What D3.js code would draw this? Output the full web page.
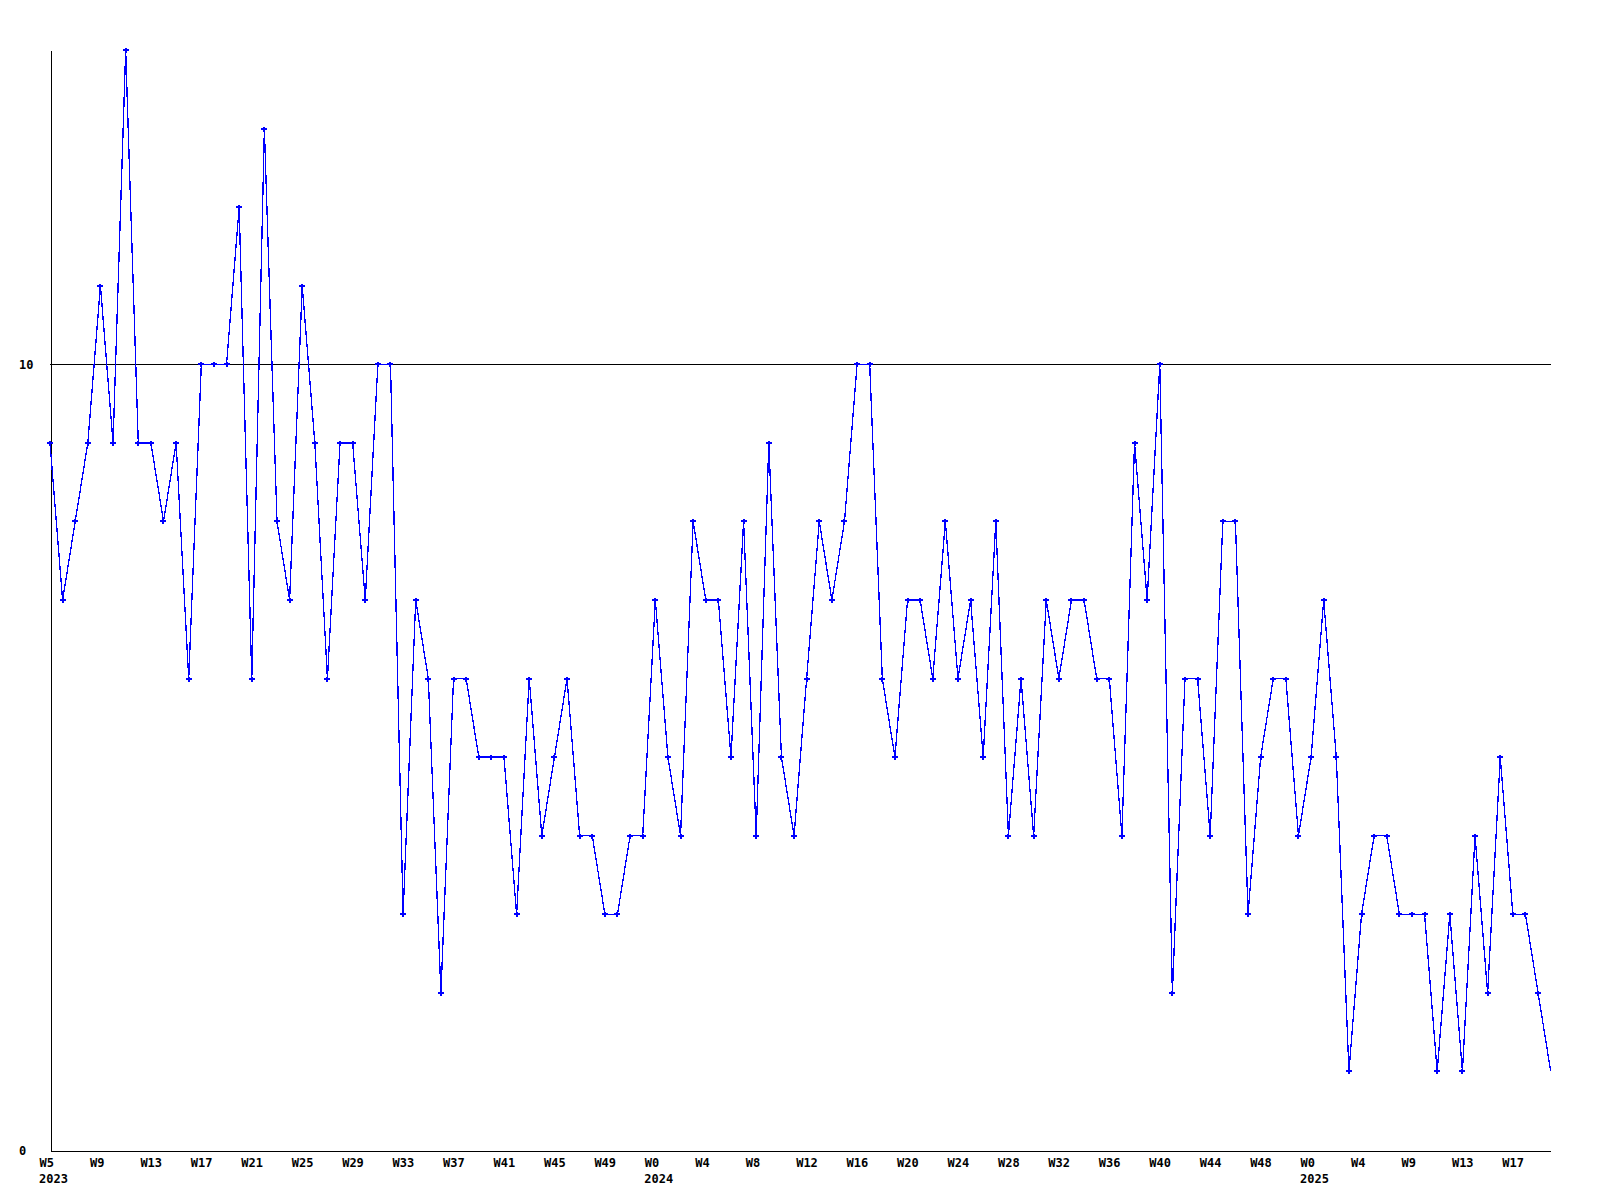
<!DOCTYPE html>
<html>
<head>
<meta charset="utf-8">
<script src="https://cdn.jsdelivr.net/npm/d3@7"></script>
<style>
  html, body { margin: 0; padding: 0; background: #ffffff; }
  svg { display: block; }
  text { font-family: "DejaVu Sans Mono", "Liberation Mono", monospace; font-weight: bold; font-size: 12px; fill: #000; }
</style>
</head>
<body>
<svg id="chart" width="1600" height="1200"></svg>
<script>
// Weekly counts, 2023 W5 through 2025 W20 (120 weeks)
const values = [
  9, 7, 8, 9, 11, 9, 14, 9, 9, 8, 9, 6, 10, 10, 10, 12, 6, 13, 8, 7,
  11, 9, 6, 9, 9, 7, 10, 10, 3, 7, 6, 2, 6, 6, 5, 5, 5, 3, 6, 4,
  5, 6, 4, 4, 3, 3, 4, 4, 7, 5, 4, 8, 7, 7, 5, 8, 4, 9, 5, 4,
  6, 8, 7, 8, 10, 10, 6, 5, 7, 7, 6, 8, 6, 7, 5, 8, 4, 6, 4, 7,
  6, 7, 7, 6, 6, 4, 9, 7, 10, 2, 6, 6, 4, 8, 8, 3, 5, 6, 6, 4,
  5, 7, 5, 1, 3, 4, 4, 3, 3, 3, 1, 3, 1, 4, 2, 5, 3, 3, 2, 1
];
// Week tick labels (every 4th point) and their point index
const tickIndex = [0, 4, 8, 12, 16, 20, 24, 28, 32, 36, 40, 44,
                   48, 52, 56, 60, 64, 68, 72, 76, 80, 84, 88, 92, 96,
                   100, 104, 108, 112, 116];
const tickText = ["W5", "W9", "W13", "W17", "W21", "W25", "W29", "W33", "W37", "W41", "W45", "W49",
                  "W0", "W4", "W8", "W12", "W16", "W20", "W24", "W28", "W32", "W36", "W40", "W44", "W48",
                  "W0", "W4", "W9", "W13", "W17"];
// Year labels and their point index
const yearIndex = [0, 48, 100];
const yearText = ["2023", "2024", "2025"];
// Y axis labels and reference line
const yTicks = [0, 10];
const refLine = [10];

const svg = d3.select("#chart");
const mLeft = 50, mRight = 1550.7, mTop = 50, mBottom = 1150;

const x = d3.scaleLinear().domain([0, values.length - 1]).range([mLeft, mRight]);
const y = d3.scaleLinear().domain([0, 14]).range([mBottom, mTop]);

// Reference line at 10
svg.append("g").selectAll("line").data(refLine).join("line")
  .attr("x1", mLeft).attr("x2", mRight)
  .attr("y1", d => Math.round(y(d)) + 0.5).attr("y2", d => Math.round(y(d)) + 0.5)
  .attr("stroke", "#000").attr("stroke-width", 1)
  .attr("shape-rendering", "crispEdges");

// X axis
const xLabel = d3.scaleOrdinal().domain(tickIndex).range(tickText);
const xAxis = svg.append("g")
  .attr("transform", `translate(0,${mBottom + 0.5})`)
  .call(d3.axisBottom(x).tickValues(tickIndex).tickFormat(d => xLabel(d)).tickSize(0).tickSizeOuter(0));
xAxis.select(".domain").attr("stroke", "#000").attr("shape-rendering", "crispEdges");
xAxis.selectAll(".tick line").remove();
xAxis.selectAll(".tick text")
  .attr("text-anchor", "start").attr("x", -11).attr("y", 16.5).attr("dy", null)
  .style("font-family", "DejaVu Sans Mono, Liberation Mono, monospace")
  .style("font-weight", "bold").style("font-size", "12px").attr("fill", "#000");

// Year labels
svg.append("g").selectAll("text").data(yearIndex).join("text")
  .attr("x", d => x(d) - 11)
  .attr("y", mBottom + 33)
  .text((d, i) => yearText[i]);

// Y axis
const yAxis = svg.append("g")
  .attr("transform", `translate(${mLeft + 0.5},0)`)
  .call(d3.axisLeft(y).tickValues(yTicks).tickFormat(d3.format("d")).tickSize(0).tickSizeOuter(0));
yAxis.select(".domain").attr("stroke", "#000").attr("shape-rendering", "crispEdges");
yAxis.selectAll(".tick line").remove();
yAxis.selectAll(".tick text")
  .attr("text-anchor", "start").attr("x", -31.5).attr("dy", "0.36em")
  .style("font-family", "DejaVu Sans Mono, Liberation Mono, monospace")
  .style("font-weight", "bold").style("font-size", "12px").attr("fill", "#000");

// Data line
const line = d3.line().x((d, i) => x(i)).y(d => y(d));
svg.append("path")
  .datum(values)
  .attr("d", line)
  .attr("fill", "none")
  .attr("stroke", "#0000ff")
  .attr("stroke-width", 1.3)
  .attr("shape-rendering", "crispEdges");

// Point markers (small plus), last point has none
svg.append("g").selectAll("path").data(values.slice(0, values.length - 1)).join("path")
  .attr("transform", (d, i) => `translate(${Math.round(x(i))},${Math.round(y(d))})`)
  .attr("d", "M-3,-1h6v2h-6z M-1,-2.5h2v5h-2z")
  .attr("fill", "#0000ff")
  .attr("shape-rendering", "crispEdges");
</script>
</body>
</html>
